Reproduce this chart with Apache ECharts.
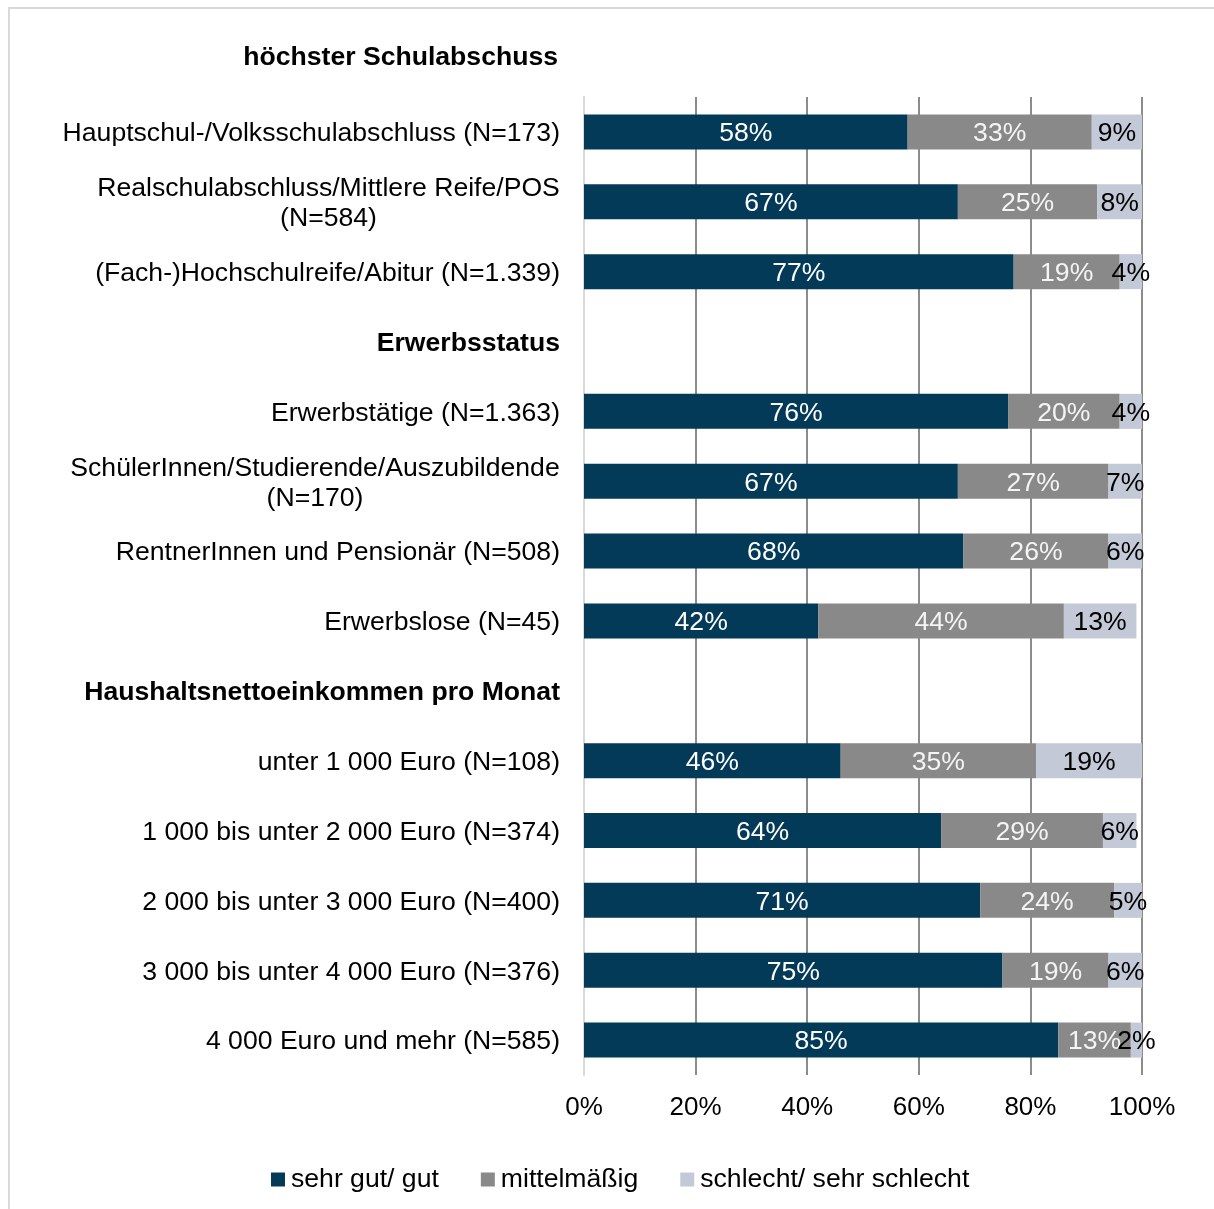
<!DOCTYPE html>
<html>
<head>
<meta charset="utf-8">
<script src="https://cdn.jsdelivr.net/npm/echarts@6/dist/echarts.min.js"></script>
<style>
  html, body { margin: 0; padding: 0; background: #fff; }
  #chart { width: 1214px; height: 1209px; }
</style>
</head>
<body>
<div id="chart"></div>
<script>
// Rows of the chart (top to bottom); section headings carry no bars
const categories = [
  'Hauptschul-/Volksschulabschluss (N=173)',
  'Realschulabschluss/Mittlere Reife/POS\n(N=584)',
  '(Fach-)Hochschulreife/Abitur (N=1.339)',
  'Erwerbsstatus',
  'Erwerbstätige (N=1.363)',
  'SchülerInnen/Studierende/Auszubildende\n(N=170)',
  'RentnerInnen und Pensionär (N=508)',
  'Erwerbslose (N=45)',
  'Haushaltsnettoeinkommen pro Monat',
  'unter 1 000 Euro (N=108)',
  '1 000 bis unter 2 000 Euro (N=374)',
  '2 000 bis unter 3 000 Euro (N=400)',
  '3 000 bis unter 4 000 Euro (N=376)',
  '4 000 Euro und mehr (N=585)'
];
const headings = ['Erwerbsstatus', 'Haushaltsnettoeinkommen pro Monat'];
const topHeading = 'höchster Schulabschuss';

const seriesNames = ['sehr gut/ gut', 'mittelmäßig', 'schlecht/ sehr schlecht'];
const sehrGutGut    = [58, 67, 77, null, 76, 67, 68, 42, null, 46, 64, 71, 75, 85];
const mittelmaessig = [33, 25, 19, null, 20, 27, 26, 44, null, 35, 29, 24, 19, 13];
const schlecht      = [9, 8, 4, null, 4, 7, 6, 13, null, 19, 6, 5, 6, 2];

const xTicks = [0, 20, 40, 60, 80, 100];

const FONT = '"Liberation Sans", Arial, sans-serif';
const FS = 26.6;

// measure text widths so two-line labels can be centred as a block
const ctx = document.createElement('canvas').getContext('2d');
ctx.font = FS + 'px ' + FONT;
const rich = {
  h: { fontFamily: FONT, fontSize: FS, fontWeight: 'bold', color: '#000' }
};
categories.forEach((c, i) => {
  if (c.indexOf('\n') >= 0) {
    const w = Math.max(...c.split('\n').map(l => ctx.measureText(l).width));
    rich['m' + i] = { fontFamily: FONT, fontSize: FS, color: '#000', width: Math.ceil(w), align: 'center', lineHeight: 30 };
  }
});

const chart = echarts.init(document.getElementById('chart'), null, { renderer: 'canvas' });

const labelBase = {
  show: true, position: 'inside', offset: [0, 2], fontFamily: FONT, fontSize: FS,
  formatter: p => p.value == null ? '' : p.value + '%'
};

chart.setOption({
  animation: false,
  backgroundColor: '#fff',
  grid: { left: 584, right: 72, top: 97, bottom: 134, containLabel: false },
  legend: {
    left: 266, top: 1161,
    icon: 'rect', itemWidth: 14, itemHeight: 14, itemGap: 42,
    textStyle: { fontFamily: FONT, fontSize: FS, color: '#000', padding: [0, 0, 0, 1] },
    data: seriesNames
  },
  xAxis: {
    type: 'value', min: 0, max: 100, interval: 20,
    axisLine: { show: false }, axisTick: { show: false },
    axisLabel: { fontFamily: FONT, fontSize: 26, color: '#000', margin: 20, formatter: v => xTicks.includes(v) ? v + '%' : '' },
    splitLine: { show: true, lineStyle: { color: '#8c8c8c', width: 2 } }
  },
  yAxis: {
    type: 'category', inverse: true, data: categories,
    axisLine: { show: true, lineStyle: { color: '#d9d9d9', width: 2 } },
    axisTick: { show: false },
    axisLabel: {
      margin: 24, fontFamily: FONT, fontSize: FS, color: '#000', lineHeight: 30, padding: [4, 0, 0, 0],
      formatter: (v, i) => {
        if (headings.includes(v)) return '{h|' + v + '}';
        if (v.indexOf('\n') >= 0) return v.split('\n').map(l => '{m' + i + '|' + l + '}').join('\n');
        return v;
      },
      rich: rich
    }
  },
  graphic: [
    { type: 'rect', silent: true, shape: { x: 9, y: 8, width: 1300, height: 1300 }, style: { fill: 'none', stroke: '#d9d9d9', lineWidth: 2 } },
    { type: 'text', x: 558, y: 58, style: { text: topHeading, font: 'bold ' + FS + 'px ' + FONT, fill: '#000', align: 'right', verticalAlign: 'middle' } }
  ],
  series: [
    { name: seriesNames[0], type: 'bar', stack: 'all', barWidth: 35, data: sehrGutGut,
      itemStyle: { color: '#023A58' }, label: Object.assign({}, labelBase, { color: '#fff' }) },
    { name: seriesNames[1], type: 'bar', stack: 'all', barWidth: 35, data: mittelmaessig,
      itemStyle: { color: '#898989' }, label: Object.assign({}, labelBase, { color: '#f4f4f4' }) },
    { name: seriesNames[2], type: 'bar', stack: 'all', barWidth: 35, data: schlecht,
      itemStyle: { color: '#C4C9D7' }, label: Object.assign({}, labelBase, { color: '#000' }) }
  ]
});
</script>
</body>
</html>
